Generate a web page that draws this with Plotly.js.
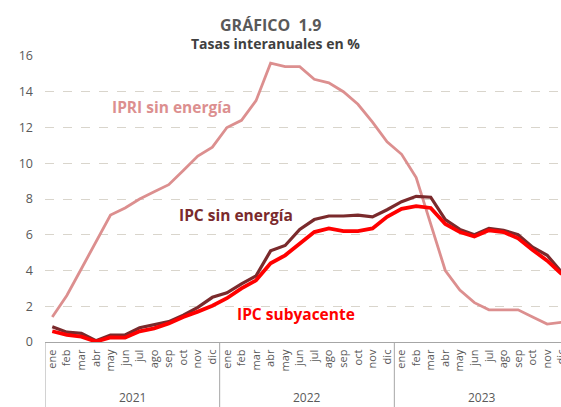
<!DOCTYPE html>
<html>
<head>
<meta charset="utf-8">
<script src="https://cdn.plot.ly/plotly-3.0.1.min.js"></script>
<style>
html,body{margin:0;padding:0;overflow:hidden;background:#fff;width:561px;height:407px;}
#chart{width:600px;height:407px;}
</style>
</head>
<body>
<div id="chart"></div>
<script>
const years = ['2021','2022','2023'];
const months = ['ene','feb','mar','abr','may','jun','jul','ago','sep','oct','nov','dic'];

const ipriSinEnergia = [
  1.4, 2.6, 4.1, 5.6, 7.1, 7.5, 8.0, 8.4, 8.8, 9.6, 10.4, 10.9,
  12.0, 12.4, 13.5, 15.6, 15.4, 15.4, 14.7, 14.5, 14.0, 13.3, 12.3, 11.2,
  10.5, 9.2, 6.6, 4.0, 2.9, 2.2, 1.8, 1.8, 1.8, 1.4, 1.0, 1.1
];
const ipcSinEnergia = [
  0.86, 0.55, 0.48, 0.07, 0.39, 0.39, 0.8, 0.95, 1.14, 1.5, 1.94, 2.5,
  2.75, 3.25, 3.7, 5.1, 5.4, 6.3, 6.85, 7.05, 7.05, 7.1, 7.0, 7.4,
  7.85, 8.15, 8.1, 6.85, 6.3, 6.0, 6.35, 6.25, 6.0, 5.3, 4.85, 3.9
];
const ipcSubyacente = [
  0.6, 0.4, 0.3, 0.02, 0.26, 0.24, 0.6, 0.76, 1.04, 1.4, 1.7, 2.03,
  2.45, 3.0, 3.45, 4.4, 4.85, 5.5, 6.15, 6.35, 6.2, 6.2, 6.35, 7.0,
  7.45, 7.6, 7.5, 6.6, 6.15, 5.9, 6.25, 6.15, 5.8, 5.15, 4.55, 3.8
];

const xCats = [], xText = [];
years.forEach(y => months.forEach(m => { xCats.push(m + ' ' + y); xText.push(m); }));

const traces = [
  {x: xCats, y: ipriSinEnergia, type: 'scatter', mode: 'lines', name: 'IPRI sin energía',
   line: {color: '#dc8f8f', width: 2.8}},
  {x: xCats, y: ipcSinEnergia, type: 'scatter', mode: 'lines', name: 'IPC sin energía',
   line: {color: '#7a2a2c', width: 3.2}},
  {x: xCats, y: ipcSubyacente, type: 'scatter', mode: 'lines', name: 'IPC subyacente',
   line: {color: '#ff0000', width: 3.8}}
];

const FONT = '"Open Sans", Lato, sans-serif';
const n = xCats.length;
const belowAxis = -65 / 286;

const shapes = [];
for (let i = 0; i <= years.length; i++) {
  const xv = i * months.length - 0.5;
  shapes.push({type: 'line', xref: 'x', yref: 'paper', x0: xv, x1: xv, y0: 0, y1: belowAxis,
               line: {color: '#a6a6a6', width: 1}});
}

const annotations = [
  {text: '<b>GRÁFICO  1.9</b>', xref: 'paper', yref: 'paper', x: 0.43, y: 1.0, yshift: 31,
   showarrow: false, font: {size: 16, color: '#595959', family: FONT}, xanchor: 'center', yanchor: 'middle'},
  {text: '<b>Tasas interanuales en %</b>', xref: 'paper', yref: 'paper', x: 0.44, y: 1.0, yshift: 13,
   showarrow: false, font: {size: 14, color: '#404040', family: FONT}, xanchor: 'center', yanchor: 'middle'},
  {text: '<b>IPRI sin energía</b>', xref: 'paper', yref: 'paper', x: (171 - 45) / 524, y: (342 - 107) / 286,
   showarrow: false, font: {size: 15.5, color: '#dc8f8f', family: FONT}, xanchor: 'center', yanchor: 'middle'},
  {text: '<b>IPC sin energía</b>', xref: 'paper', yref: 'paper', x: (236 - 45) / 524, y: (342 - 215) / 286,
   showarrow: false, font: {size: 15.5, color: '#7a2a2c', family: FONT}, xanchor: 'center', yanchor: 'middle'},
  {text: '<b>IPC subyacente</b>', xref: 'paper', yref: 'paper', x: (296 - 45) / 524, y: (342 - 314) / 286,
   showarrow: false, font: {size: 15.5, color: '#ff0000', family: FONT}, xanchor: 'center', yanchor: 'middle'}
];
years.forEach((y, i) => {
  annotations.push({text: y, xref: 'x', yref: 'paper', x: i * months.length + 5.5, y: -(397 - 342) / 286,
    showarrow: false, font: {size: 12, color: '#595959', family: FONT}, xanchor: 'center', yanchor: 'middle'});
});

const layout = {
  width: 600, height: 407,
  margin: {l: 45, r: 31, t: 56, b: 65},
  paper_bgcolor: '#ffffff', plot_bgcolor: '#ffffff',
  showlegend: false,
  font: {family: FONT, color: '#595959'},
  xaxis: {
    type: 'category', range: [-0.5, n - 0.5],
    tickmode: 'array', tickvals: xCats, ticktext: xText,
    showline: true, linecolor: '#a6a6a6', linewidth: 1.2,
    showgrid: false, zeroline: false,
    tickangle: -90,
    tickfont: {size: 11, color: '#595959', family: FONT},
    ticks: '', ticklabelstandoff: 2
  },
  yaxis: {
    range: [0, 16], dtick: 2, tick0: 0,
    showline: false, zeroline: false,
    showgrid: true, gridcolor: '#d9d5cc', griddash: 'dash', gridwidth: 1,
    tickfont: {size: 12.5, color: '#595959', family: FONT},
    ticks: '', ticklabelstandoff: 11
  },
  shapes: shapes,
  annotations: annotations
};

Plotly.newPlot('chart', traces, layout, {displayModeBar: false, staticPlot: true});
</script>
</body>
</html>
